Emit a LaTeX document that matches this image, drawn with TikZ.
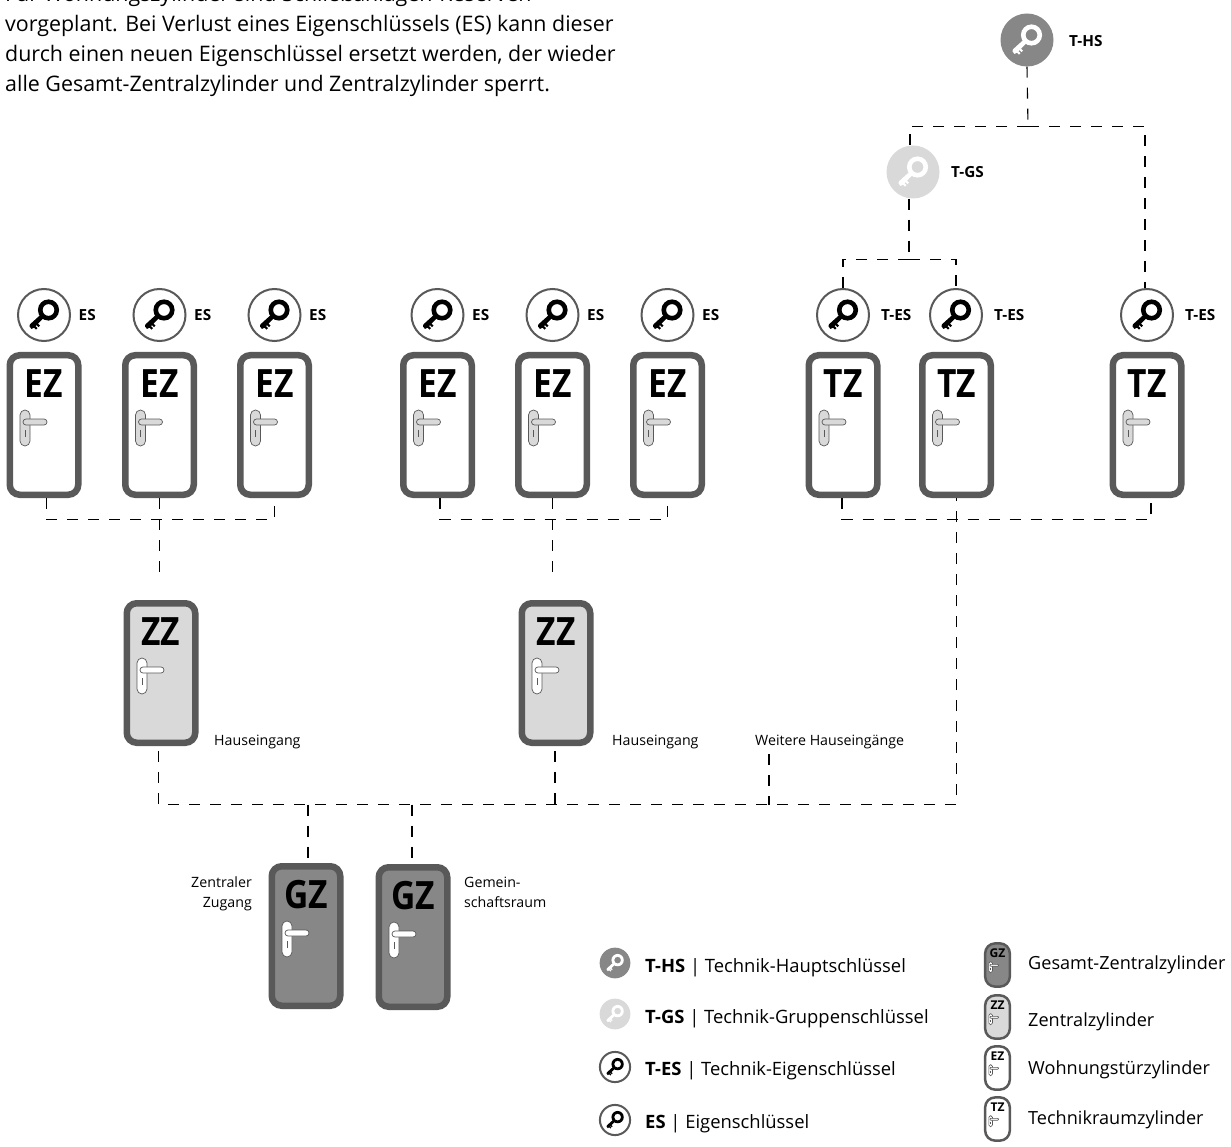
\documentclass[tikz,border=0pt]{standalone}
\usepackage{fontspec}
\setmainfont{Open Sans}
\usepackage{xcolor}
\definecolor{doorframe}{HTML}{595959}
\definecolor{doordark}{HTML}{878787}
\definecolor{doorlight}{HTML}{D9D9D9}
\newcommand{\tagfont}{\fontsize{15.3}{17}\selectfont\bfseries}
\newcommand{\notefont}{\fontsize{14.2}{19.5}\selectfont}
\tikzset{
    link/.style={draw=black, line width=1.1pt, dash pattern=on 11pt off 10pt},
    tagtext/.style={anchor=west, inner sep=0pt, font=\tagfont},
    notetext/.style={inner sep=0pt, font=\notefont},
    legendleft/.style={anchor=base west, inner sep=0pt, font=\fontsize{18.4}{22}\selectfont},
    legendright/.style={anchor=base west, inner sep=0pt, font=\fontsize{18.1}{22}\selectfont},
    keyplain/.style={fill=white, draw=doorframe, line width=2pt},
    keydark/.style={fill=doordark, minimum size=53pt},
    keylight/.style={fill=doorlight, minimum size=53pt},
    doorsign/.style={font=\fontsize{39}{39}\selectfont\bfseries},
    doorplate/.style={rounded corners=5pt},
    doorlever/.style={rounded corners=3pt},
    doorpart/.style={line width=.7pt},
    legenddoor/.style={xscale=.36, yscale=.31,
        doorsign/.style={font=\fontsize{39}{39}\selectfont\bfseries, yshift=-2.7pt},
        doorplate/.style={rounded corners=1.7pt},
        doorlever/.style={rounded corners=.8pt},
        doorpart/.style={line width=.6pt, yshift=-4pt}},
    pics/keyicon/.style n args={2}{code={
        \node[circle, minimum size=52pt, inner sep=0pt, transform shape, #1] (disc) at (0,0) {};
        \fill[#2, even odd rule] (4.5,-5) circle (10.6) (4.5,-5) circle (5.9);
        \fill[#2] (-3.6,-.1) -- (-.4,3.1) -- (-6,8.7) -- (-4,10.7) -- (-5.5,12.2) -- (-7.5,10.2)
            -- (-8.5,11.2) -- (-6.5,13.2) -- (-8,14.7) -- (-10,12.7) -- (-12.5,14) -- (-14.5,11.5)
            -- (-14.1,9.4) -- cycle;
    }},
    pics/door/.style n args={4}{code={
        \node[rectangle, rounded corners=10pt, minimum width=68.5pt, minimum height=139.5pt,
            transform shape, draw=doorframe, line width=#4, fill=#2] (body) at (0,0) {};
        \node[inner sep=0pt, transform shape, doorsign] (sign) at (0,-41)
            {\scalebox{.86}[1]{#1}};
        \draw[doorframe, doorpart, doorplate, fill=#3] (-24,-15) rectangle (-14,21);
        \draw[doorframe, doorpart, doorlever, fill=#3] (-21,-6) rectangle (3,0);
        \draw[doorframe, doorpart] (-19,5) -- (-19,12);
    }},
}
\begin{document}
\begin{tikzpicture}[x=1pt, y=-1pt]
    \useasboundingbox (0,0) rectangle (1231,1147);

    \node[anchor=base west, align=left, inner sep=0pt, font=\fontsize{21.4}{30}\selectfont] (intro) at (5,92)
        {Für Wohnungszylinder sind Schließanlagen-Reserven\\
         vorgeplant. Bei Verlust eines Eigenschlüssels (ES) kann dieser\\
         durch einen neuen Eigenschlüssel ersetzt werden, der wieder\\
         alle Gesamt-Zentralzylinder und Zentralzylinder sperrt.};

    % keys
    \pic (ths) at (1027,40) {keyicon={keydark}{white}};
    \pic (tgs) at (913,172) {keyicon={keylight}{white}};
    \node[tagtext] (thstag) at (1069,41) {T-HS};
    \node[tagtext] (tgstag) at (951,172) {T-GS};
    \foreach \name/\x in {es1/44, es2/159.5, es3/274.5, es4/437.5, es5/552.5, es6/667.5} {
        \pic (\name) at (\x,315) {keyicon={keyplain}{black}};
        \node[tagtext] (\name tag) at (\x+34.5,315) {ES};
    }
    \foreach \name/\x in {tes1/843, tes2/956, tes3/1147} {
        \pic (\name) at (\x,315) {keyicon={keyplain}{black}};
        \node[tagtext] (\name tag) at (\x+38,315) {T-ES};
    }

    % doors
    \foreach \name/\x in {ez1/44, ez2/159.5, ez3/274.5, ez4/437.5, ez5/552.5, ez6/667.5}
        \pic (\name) at (\x,425) {door={EZ}{white}{doorlight}{6.5pt}};
    \foreach \name/\x in {tz1/843, tz2/956.5, tz3/1147}
        \pic (\name) at (\x,425) {door={TZ}{white}{doorlight}{6.5pt}};
    \foreach \name/\x in {zz1/161, zz2/556}
        \pic (\name) at (\x,673) {door={ZZ}{doorlight}{white}{6.5pt}};
    \pic (gz1) at (306,936) {door={GZ}{doordark}{white}{6.5pt}};
    \pic (gz2) at (413,937) {door={GZ}{doordark}{white}{6.5pt}};

    \node[notetext, anchor=west] (entry1) at (214,742) {Hauseingang};
    \node[notetext, anchor=west] (entry2) at (612,742) {Hauseingang};
    \node[notetext, anchor=west] (further) at (755,742) {Weitere Hauseingänge};
    \node[notetext, anchor=north east, align=right] (central) at (252,877) {Zentraler\\Zugang};
    \node[notetext, anchor=north west, align=left] (common) at (464,877) {Gemein-\\schaftsraum};

    % connectors
    \coordinate (hsrail) at (1028,126.5);
    \coordinate (gsrail) at (909,259.5);
    \coordinate (rail1) at (159.5,519.5);
    \coordinate (rail2) at (552.5,519.5);
    \coordinate (rail3) at (956.5,519.5);
    \coordinate (drop1) at (159.5,578);
    \coordinate (drop2) at (552.5,578);
    \coordinate (furtherdrop) at (769,754);
    \coordinate (bus) at (555,804.5);
    \coordinate (busfurther) at (769,804.5);
    \coordinate (busgz1) at (308,804.5);
    \coordinate (busgz2) at (412,804.5);

    \draw[link] (thsdisc.south) -- (hsrail);
    \draw[link] (hsrail) -| ([xshift=-3pt]tgsdisc.north);
    \draw[link] (hsrail) -| ([xshift=-2pt]tes3disc.north);
    \draw[link] ([xshift=-4pt]tgsdisc.south) -- (gsrail);
    \draw[link] (gsrail) -| (tes1disc.north);
    \draw[link] (gsrail) -| (tes2disc.north);
    \draw[link] ([xshift=2.5pt]ez1body.south) |- (rail1) -| (ez3body.south);
    \draw[link] ([xshift=2.5pt]ez4body.south) |- (rail2) -| (ez6body.south);
    \draw[link] ([xshift=-1pt]tz1body.south) |- (rail3) -| ([xshift=4pt]tz3body.south);
    \draw[link] (ez2body.south) -- (drop1);
    \draw[link] (ez5body.south) -- (drop2);
    \draw[link, shorten <=5pt] ([xshift=-2.5pt]zz1body.south) |- (bus) -| (tz2body.south);
    \draw[link, shorten <=5pt] ([xshift=-1pt]zz2body.south) -- (bus);
    \draw[link] (furtherdrop) -- (busfurther);
    \draw[link] (busgz1) -- ([xshift=2pt]gz1body.north);
    \draw[link] (busgz2) -- ([xshift=-1pt]gz2body.north);

    % legend
    \pic[scale=.58] (lghs) at (615,963) {keyicon={keydark}{white}};
    \pic[scale=.58] (lggs) at (615,1014) {keyicon={keylight}{white}};
    \pic[scale=.58] (lges) at (615,1067) {keyicon={keyplain}{black}};
    \pic[scale=.58] (lgoe) at (615,1120) {keyicon={keyplain}{black}};
    \node[legendleft] (lghstext) at (645,972) {\textbf{T-HS} | Technik-Hauptschlüssel};
    \node[legendleft] (lggstext) at (645,1023) {\textbf{T-GS} | Technik-Gruppenschlüssel};
    \node[legendleft] (lgestext) at (645,1075) {\textbf{T-ES} | Technik-Eigenschlüssel};
    \node[legendleft] (lgoetext) at (645,1128) {\textbf{ES} | Eigenschlüssel};

    \pic[legenddoor] (lggz) at (997.5,965) {door={GZ}{doordark}{white}{2.5pt}};
    \pic[legenddoor] (lgzz) at (997.5,1017) {door={ZZ}{doorlight}{white}{2.5pt}};
    \pic[legenddoor] (lgez) at (997.5,1068) {door={EZ}{white}{white}{2.5pt}};
    \pic[legenddoor] (lgtz) at (997.5,1119) {door={TZ}{white}{white}{2.5pt}};
    \node[legendright] (lggztext) at (1028,969) {Gesamt-Zentralzylinder};
    \node[legendright] (lgzztext) at (1028,1026) {Zentralzylinder};
    \node[legendright] (lgeztext) at (1028,1074) {Wohnungstürzylinder};
    \node[legendright] (lgtztext) at (1028,1124) {Technikraumzylinder};
\end{tikzpicture}
\end{document}
